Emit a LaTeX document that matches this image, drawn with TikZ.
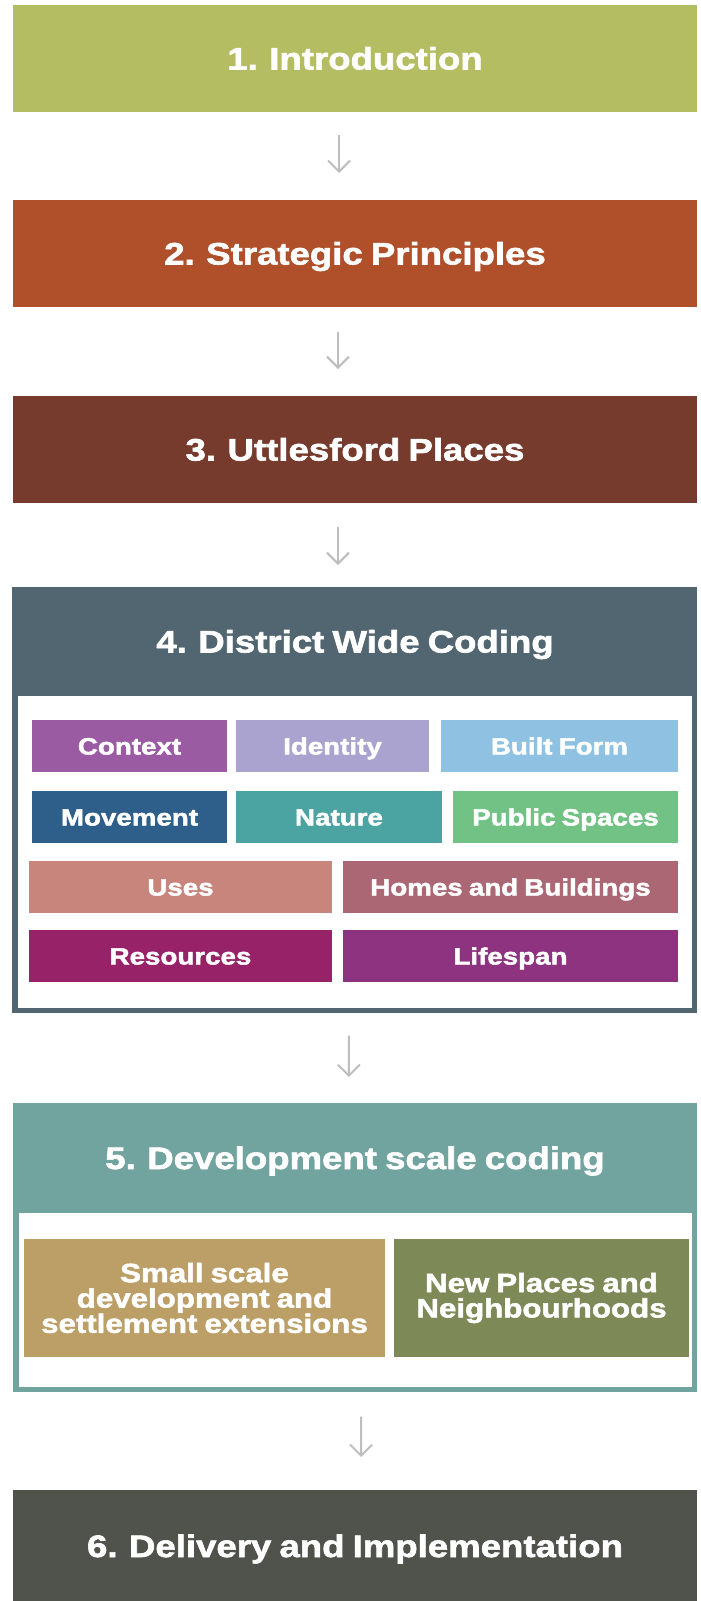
\documentclass[tikz,border=0pt]{standalone}
\usepackage{fontspec}
\usepackage{xcolor}
\usepackage{tikz}
\usetikzlibrary{arrows.meta,positioning}
\newfontfamily\boxfont{Liberation Sans Bold}[FakeStretch=1.18,FakeBold=2,WordSpace=0.8]
\definecolor{IntroGreen}{RGB}{181,189,99}
\definecolor{StratRust}{RGB}{175,80,43}
\definecolor{PlacesBrown}{RGB}{118,59,44}
\definecolor{CodingSlate}{RGB}{82,102,113}
\definecolor{DevTeal}{RGB}{113,163,159}
\definecolor{DeliveryGrey}{RGB}{79,83,75}
\definecolor{ArrowGrey}{RGB}{190,190,190}
\definecolor{CtxPurple}{RGB}{154,91,163}
\definecolor{IdLilac}{RGB}{171,163,207}
\definecolor{FormBlue}{RGB}{143,194,226}
\definecolor{MoveBlue}{RGB}{46,95,138}
\definecolor{NatureTeal}{RGB}{75,163,162}
\definecolor{PublicGreen}{RGB}{114,194,134}
\definecolor{UsesPink}{RGB}{200,133,123}
\definecolor{HomesRose}{RGB}{171,103,116}
\definecolor{ResMagenta}{RGB}{152,34,104}
\definecolor{LifePlum}{RGB}{142,51,128}
\definecolor{SmallOchre}{RGB}{188,158,103}
\definecolor{NewOlive}{RGB}{126,137,88}

\begin{document}
\begin{tikzpicture}[x=1pt,y=-1pt,
    stage/.style={anchor=north west, inner sep=0pt, outer sep=0pt, minimum width=684,
      text height=22pt, text depth=0pt,
      text=white, font=\boxfont\fontsize{31}{31}\selectfont},
    frame/.style={anchor=north west, inner sep=0pt, outer sep=0pt, fill=white, line width=5.5},
    topic/.style={anchor=north west, inner sep=0pt, outer sep=0pt, minimum height=52,
      text height=17pt, text depth=0pt,
      text=white, font=\boxfont\fontsize{23.5}{23.5}\selectfont},
    scalebox/.style={anchor=north west, inner sep=0pt, outer sep=0pt, minimum height=118,
      text=white, align=center, font=\boxfont\fontsize{26.5}{25.3}\selectfont},
    flow/.style={draw=ArrowGrey, line width=2, -{Straight Barb[length=11pt,width=22pt]}}]
        \path[use as bounding box, fill=white] (0,0) rectangle (701,1601);
        % stages 1 to 3
        \node[stage, fill=IntroGreen, minimum height=107] (intro) at (13,5) {1. Introduction};
        \node[stage, fill=StratRust, minimum height=107] (strategic) at (13,200) {2. Strategic Principles};
        \node[stage, fill=PlacesBrown, minimum height=107] (places) at (13,396) {3. Uttlesford Places};
        % district wide coding
        \node[frame, draw=CodingSlate, minimum width=679.5, minimum height=421] (coding) at (15,589.5) {};
        \node[stage, fill=CodingSlate, minimum height=109] (codinghead) at (13,587) {4. District Wide Coding};
        \foreach \nm/\x/\y/\w/\col/\txt in {
            context/32/720/195/CtxPurple/Context, identity/236/720/193/IdLilac/Identity,
            builtform/441/720/237/FormBlue/Built Form,
            movement/32/791/195/MoveBlue/Movement, nature/236/791/206/NatureTeal/Nature,
            public/453/791/225/PublicGreen/Public Spaces,
            uses/29/861/303/UsesPink/Uses, homes/343/861/335/HomesRose/Homes and Buildings,
            resources/29/930/303/ResMagenta/Resources, lifespan/343/930/335/LifePlum/Lifespan} {
          \node[topic, fill=\col, minimum width=\w] (\nm) at (\x,\y) {\txt};
        }
        % development scale coding
        \node[frame, draw=DevTeal, minimum width=678.5, minimum height=284] (devscale) at (16,1105.5) {};
        \node[stage, fill=DevTeal, minimum height=110] (devhead) at (13,1103) {5. Development scale coding};
        \node[scalebox, fill=SmallOchre, minimum width=361] (small) at (24,1239) {Small scale\\development and\\settlement extensions};
        \node[scalebox, fill=NewOlive, minimum width=295] (newplaces) at (394,1239) {New Places and\\Neighbourhoods};
        % delivery
        \node[stage, fill=DeliveryGrey, minimum height=112] (delivery) at (13,1490) {6. Delivery and Implementation};
        % arrows between the stages
        \draw[flow, shorten <=23, shorten >=27] ([xshift=-16]intro.south) -- ([xshift=-16]strategic.north);
        \draw[flow, shorten <=25, shorten >=27] ([xshift=-17]strategic.south) -- ([xshift=-17]places.north);
        \draw[flow, shorten <=24, shorten >=22] ([xshift=-17]places.south) -- ([xshift=-17]codinghead.north);
        \draw[flow, shorten <=25, shorten >=26] ([xshift=-6]coding.south) -- ([xshift=-6]devhead.north);
        \draw[flow, shorten <=27, shorten >=33] ([xshift=6]devscale.south) -- ([xshift=6]delivery.north);
      \end{tikzpicture}
\end{document}
